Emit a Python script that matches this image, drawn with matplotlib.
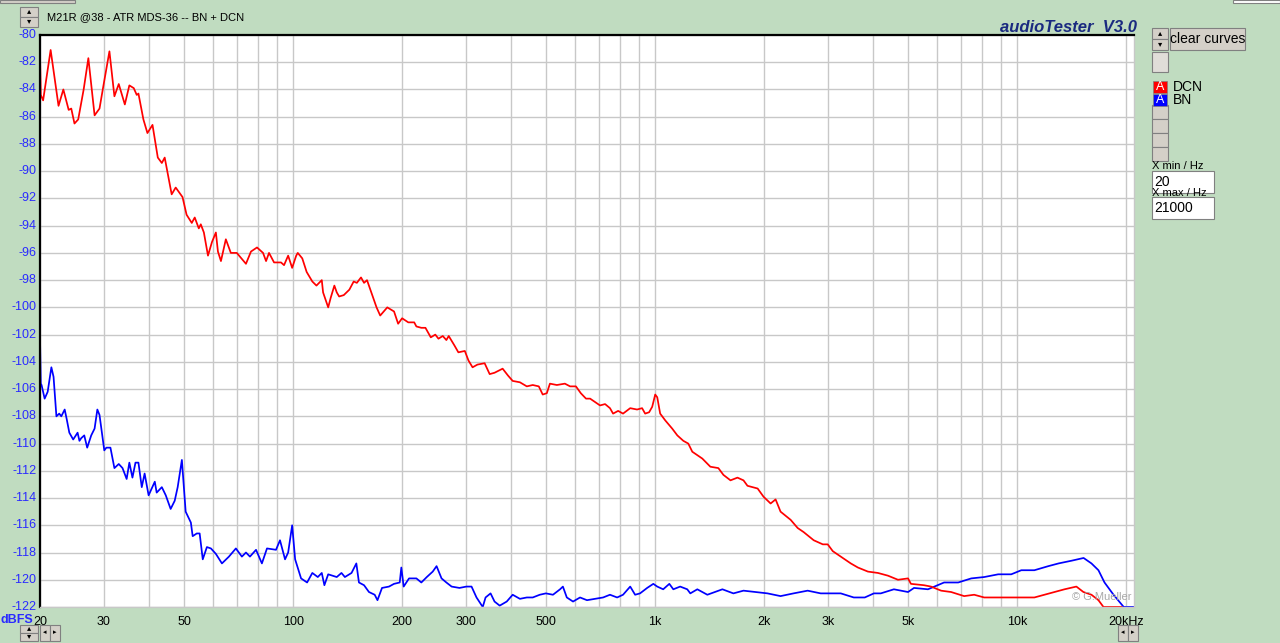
import matplotlib
matplotlib.use("Agg")
import matplotlib.pyplot as plt
from matplotlib.patches import Rectangle
from matplotlib.ticker import FixedLocator, NullFormatter, NullLocator

plt.rcParams['font.family'] = ['Liberation Sans', 'DejaVu Sans']

# DCN curve (red): frequency in Hz, level in dBFS
red_f = [20, 20.1, 20.4, 21.4, 22.5, 23.2, 24.0, 24.4, 24.9, 25.5,
         26.4, 27.2, 28.3, 29.2, 29.9, 31.1, 32.1, 33.0, 34.3, 35.3,
         36.3, 37.0, 37.4, 38.6, 39.6, 40.9, 42.3, 43.4, 44.2, 46.2,
         47.4, 49.5, 50.8, 52.5, 53.5, 54.9, 55.6, 56.7, 58.2, 59.7,
         61.2, 62.0, 63.2, 65.2, 67.3, 69.9, 74.1, 76.5, 79.5, 82.6,
         84.2, 85.8, 88.6, 92.6, 94.4, 96.9, 99.4, 102, 103, 106,
         109, 113, 116, 120, 121, 125, 127, 130, 132, 134,
         138, 143, 147, 150, 154, 157, 160, 166, 170, 174,
         182, 190, 195, 200, 208, 216, 219, 226, 232, 240,
         247, 252, 259, 265, 269, 279, 286, 298, 305, 313,
         323, 338, 349, 360, 379, 392, 404, 423, 442, 459,
         477, 489, 502, 512, 535, 563, 582, 604, 623, 644,
         661, 678, 704, 727, 750, 765, 790, 815, 853, 891,
         920, 938, 962, 981, 1000, 1013, 1032, 1066, 1114, 1151,
         1196, 1234, 1266, 1349, 1420, 1494, 1543, 1614, 1687, 1753,
         1798, 1918, 1991, 2083, 2150, 2219, 2366, 2474, 2570, 2740,
         2903, 2995, 3093, 3254, 3468, 3628, 3867, 4121, 4393, 4682,
         4991, 5084, 5521, 5776, 6159, 6565, 7130, 7600, 8101, 8854,
         9438, 10256, 11146, 11881, 12665, 13499, 14558, 15224, 16023, 16751,
         17297, 19400]
red_db = [-81.5, -84.4, -84.8, -81.1, -85.2, -84.0, -85.5, -85.4, -86.5, -86.2,
          -84.0, -81.7, -85.9, -85.4, -83.8, -81.2, -84.5, -83.6, -85.1, -83.7,
          -83.9, -84.4, -84.3, -86.2, -87.2, -86.6, -89.0, -89.4, -89.0, -91.7,
          -91.2, -91.9, -93.2, -93.8, -93.4, -94.2, -93.9, -94.5, -96.2, -95.2,
          -94.5, -95.9, -96.6, -95.0, -96.0, -96.0, -96.8, -95.9, -95.6, -96.0,
          -96.6, -96.0, -96.7, -96.7, -96.9, -96.2, -97.1, -96.2, -96.0, -96.4,
          -97.4, -98.1, -98.4, -98.0, -98.9, -100.0, -99.3, -98.4, -98.9, -99.2,
          -99.1, -98.7, -98.1, -98.2, -97.8, -98.2, -98.0, -99.2, -100.0, -100.6,
          -100.0, -100.3, -101.2, -100.8, -101.1, -101.1, -101.4, -101.5, -101.5, -102.2,
          -102.0, -102.3, -102.1, -102.4, -102.1, -102.8, -103.3, -103.2, -103.9, -104.4,
          -104.2, -104.1, -104.9, -104.8, -104.5, -105.0, -105.4, -105.5, -105.8, -105.7,
          -105.8, -106.4, -106.3, -105.6, -105.7, -105.6, -105.8, -105.8, -106.3, -106.7,
          -106.7, -106.9, -107.2, -107.1, -107.4, -107.8, -107.6, -107.8, -107.4, -107.5,
          -107.4, -107.8, -107.7, -107.3, -106.4, -106.6, -107.8, -108.3, -108.9, -109.4,
          -109.8, -110.0, -110.6, -111.1, -111.7, -111.8, -112.3, -112.7, -112.5, -112.7,
          -113.1, -113.3, -113.9, -114.4, -114.1, -115.0, -115.6, -116.2, -116.5, -117.1,
          -117.4, -117.4, -117.9, -118.3, -118.8, -119.1, -119.4, -119.5, -119.7, -120.0,
          -119.9, -120.3, -120.4, -120.5, -120.8, -120.9, -121.2, -121.1, -121.3, -121.3,
          -121.3, -121.3, -121.3, -121.1, -120.9, -120.7, -120.5, -120.9, -121.1, -121.5,
          -122.0, -122.0]

# BN curve (blue)
blue_f = [20, 20.1, 20.2, 20.6, 21.0, 21.5, 21.8, 22.2, 22.6, 22.9,
          23.4, 23.7, 24.1, 24.7, 25.4, 25.7, 26.0, 26.5, 27.0, 27.7,
          28.3, 28.8, 29.2, 30.1, 30.5, 31.3, 32.1, 33.0, 33.8, 34.7,
          35.3, 36.0, 36.7, 37.4, 38.2, 38.9, 39.9, 41.5, 42.0, 43.4,
          44.5, 45.9, 47.1, 48.0, 49.3, 50.5, 52.2, 52.8, 54.2, 55.2,
          56.3, 57.8, 59.3, 61.2, 63.6, 66.5, 69.5, 72.2, 74.1, 76.0,
          79.0, 82.0, 84.7, 89.7, 92.0, 95.0, 96.9, 99.4, 101.3, 105.2,
          109.3, 113, 117, 120, 122, 125, 132, 136, 139, 145,
          149.5, 152, 157, 162, 168, 171, 176, 184, 190, 197,
          199, 202, 209, 219, 226, 234, 243, 249, 257, 265,
          274, 288, 301, 311, 321, 334, 340, 351, 360, 372,
          389, 404, 423, 442, 459, 480, 499, 522, 546, 556,
          570, 593, 620, 648, 682, 718, 750, 785, 815, 853,
          880, 908, 950, 988, 1013, 1052, 1094, 1122, 1172, 1226,
          1250, 1307, 1393, 1533, 1644, 1753, 1892, 2042, 2219, 2410,
          2636, 2864, 3053, 3254, 3535, 3791, 4017, 4197, 4562, 4991,
          5184, 5666, 6277, 6866, 7462, 8101, 8854, 9620, 10256, 11146,
          12180, 13000, 14125, 15240, 16023, 16751, 17410, 18437, 19674, 21000]
blue_db = [-102.2, -105.6, -105.7, -106.7, -106.2, -104.4, -105.1, -108.0, -107.8, -108.0,
           -107.5, -108.2, -109.2, -109.7, -109.2, -109.8, -109.6, -109.4, -110.3, -109.4,
           -108.9, -107.5, -107.9, -110.5, -110.3, -110.3, -111.8, -111.5, -111.8, -112.6,
           -111.4, -112.5, -111.4, -111.4, -113.2, -112.2, -113.8, -112.8, -113.6, -113.2,
           -113.8, -114.8, -114.2, -113.2, -111.2, -115.0, -115.8, -116.8, -116.6, -116.6,
           -118.5, -117.6, -117.7, -118.1, -118.8, -118.3, -117.7, -118.3, -118.0, -118.3,
           -117.8, -118.8, -117.7, -117.8, -117.1, -118.5, -118.0, -116.0, -118.5, -119.9,
           -120.2, -119.5, -119.8, -119.5, -120.4, -119.6, -119.8, -119.5, -119.8, -119.5,
           -118.8, -120.2, -120.4, -120.9, -121.1, -121.5, -120.6, -120.5, -120.3, -120.2,
           -119.1, -120.5, -119.9, -119.9, -120.2, -119.8, -119.4, -119.0, -119.9, -120.2,
           -120.5, -120.6, -120.5, -120.5, -121.3, -122.0, -121.3, -121.0, -121.6, -121.9,
           -121.6, -121.1, -121.4, -121.3, -121.3, -121.1, -121.0, -121.1, -120.7, -120.5,
           -121.3, -121.6, -121.3, -121.5, -121.4, -121.3, -121.1, -121.3, -121.1, -120.5,
           -121.1, -121.0, -120.6, -120.3, -120.5, -120.7, -120.3, -120.7, -120.5, -120.7,
           -121.0, -120.7, -121.1, -120.7, -121.0, -120.8, -120.9, -121.0, -121.2, -121.0,
           -120.8, -121.0, -121.0, -121.0, -121.3, -121.3, -121.0, -121.0, -120.7, -120.9,
           -120.6, -120.7, -120.2, -120.2, -119.9, -119.8, -119.6, -119.6, -119.3, -119.3,
           -119.0, -118.8, -118.6, -118.4, -118.8, -119.3, -120.2, -121.1, -122.0, -122.0]

grid_freqs = [20, 30, 40, 50, 60, 70, 80, 90, 100, 200, 300, 400, 500, 600, 700, 800, 900,
              1000, 2000, 3000, 4000, 5000, 6000, 7000, 8000, 9000, 10000, 20000]
x_ticks = [20, 30, 50, 100, 200, 300, 500, 1000, 2000, 3000, 5000, 10000, 20000]
x_labels = ['20', '30', '50', '100', '200', '300', '500', '1k', '2k', '3k', '5k', '10k', '20kHz']
y_ticks = list(range(-80, -123, -2))

W, H = 1280, 643
BG = '#c0dcc0'
BTN = '#d4d0c8'


def px(x, y):
    return x / W, 1 - y / H


fig = plt.figure(figsize=(12.8, 6.43), dpi=100, facecolor=BG)
ax = fig.add_axes([40 / W, 1 - 607 / H, (1134 - 40) / W, (607 - 35) / H])
ax.set_facecolor('white')
ax.set_xscale('log')
ax.set_xlim(20, 21000)
ax.set_ylim(-122, -80)

ax.xaxis.set_major_locator(FixedLocator(grid_freqs))
ax.xaxis.set_minor_locator(NullLocator())
ax.xaxis.set_major_formatter(NullFormatter())
ax.yaxis.set_major_locator(FixedLocator(y_ticks))
ax.yaxis.set_major_formatter(NullFormatter())
ax.tick_params(length=0)
ax.grid(True, color='#c8c8c8', lw=1.0)
ax.set_axisbelow(True)

for s in ['left', 'top']:
    ax.spines[s].set_color('black')
    ax.spines[s].set_linewidth(1.6)
for s in ['right', 'bottom']:
    ax.spines[s].set_color('#c8c8c8')
    ax.spines[s].set_linewidth(1.0)

ax.plot(blue_f, blue_db, color='#0000ff', lw=1.25)
ax.plot(red_f, red_db, color='#ff0000', lw=1.25)

# tick labels as texts
for v in y_ticks:
    ax.text(-0.003, (v + 122) / 42, str(v), transform=ax.transAxes, ha='right', va='center',
            color='#2a2aff', fontsize=9)
for f, lab in zip(x_ticks, x_labels):
    ax.text(f, -0.027, lab, transform=ax.get_xaxis_transform(), ha='center', va='center',
            color='black', fontsize=9)
fig.text(*px(33, 620), 'dBFS', color='#2a2aff', fontsize=9, ha='right', va='center',
         weight='bold')
ax.text(0.998, 0.008, '© G.Mueller', transform=ax.transAxes, ha='right', va='bottom',
        color='#a8a8a8', fontsize=8)

# header
fig.text(*px(47, 17), 'M21R @38 - ATR MDS-36 -- BN + DCN', fontsize=8, ha='left', va='center')
fig.text(*px(1137, 28), 'audioTester  V3.0', fontsize=12, ha='right', va='center',
         color='#1a2a80', style='italic', weight='bold')


def button(x, y, w, h, label=None, fs=10, fc=BTN):
    fig.patches.append(Rectangle(px(x, y + h), w / W, h / H, transform=fig.transFigure,
                                 facecolor=fc, edgecolor='#808080', lw=0.8))
    if label:
        fig.text(*px(x + w / 2, y + h / 2), label, fontsize=fs, ha='center', va='center')


# spin buttons and controls
button(20, 7, 18, 10, '▴', 6)
button(20, 17, 18, 10, '▾', 6)
button(20, 625, 18, 8, '▴', 6)
button(20, 633, 18, 8, '▾', 6)
button(40, 625, 10, 16, '◂', 5)
button(50, 625, 10, 16, '▸', 5)
button(1118, 625, 10, 16, '◂', 5)
button(1128, 625, 10, 16, '▸', 5)
button(0, 0, 75, 3)
button(1233, 0, 47, 3, fc='white')

button(1152, 28, 16, 11, '▴', 6)
button(1152, 39, 16, 11, '▾', 6)
button(1170, 28, 75, 22, 'clear curves', 10)
button(1152, 52, 16, 20, fc='#e0ddd8')
for yy in [105, 119, 133, 147]:
    button(1152, yy, 16, 14)

# legend
fig.patches.append(Rectangle(px(1153, 93), 14 / W, 12 / H, transform=fig.transFigure,
                             facecolor='#ff0000', edgecolor='#808080', lw=0.5))
fig.text(*px(1160, 87), 'A', color='white', fontsize=9, ha='center', va='center')
fig.text(*px(1173, 87), 'DCN', fontsize=10, ha='left', va='center')
fig.patches.append(Rectangle(px(1153, 106), 14 / W, 12 / H, transform=fig.transFigure,
                             facecolor='#0000ff', edgecolor='#808080', lw=0.5))
fig.text(*px(1160, 100), 'A', color='white', fontsize=9, ha='center', va='center')
fig.text(*px(1173, 100), 'BN', fontsize=10, ha='left', va='center')

# x range boxes
fig.text(*px(1152, 166), 'X min / Hz', fontsize=8, ha='left', va='center')
button(1152, 171, 62, 22, fc='white')
fig.text(*px(1154, 182), '20', fontsize=10, ha='left', va='center')
fig.text(*px(1152, 193), 'X max / Hz', fontsize=8, ha='left', va='center')
button(1152, 197, 62, 22, fc='white')
fig.text(*px(1154, 208), '21000', fontsize=10, ha='left', va='center')

fig.savefig('out.png', dpi=100, facecolor=BG)
